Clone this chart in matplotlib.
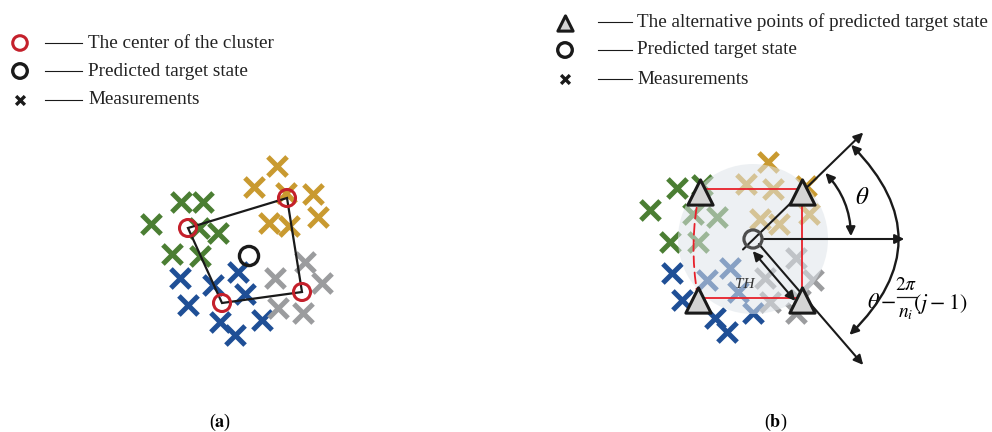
import numpy as np
import matplotlib.pyplot as plt
from matplotlib.patches import Circle, FancyArrowPatch, Polygon

plt.rcParams['font.family'] = ['Liberation Serif', 'DejaVu Serif']
plt.rcParams['mathtext.fontset'] = 'stix'

# colours of the four measurement clusters
GREEN = '#4b7e33'
GOLD = '#c99a30'
BLUE = '#1f4f96'
GRAY = '#9b9c9e'
RED = '#c4202b'

# ---- panel (a): measurements, cluster centres, predicted state ----
a_green_x = [181, 203, 151, 199, 218, 172, 200]
a_green_y = [202, 202, 224, 228, 233, 254, 256]
a_gold_x = [277, 254, 286, 313, 318, 269, 289]
a_gold_y = [166, 187, 193, 194, 217, 223, 226]
a_blue_x = [180, 188, 238, 213, 245, 220, 235, 262]
a_blue_y = [278, 305, 272, 285, 294, 322, 335, 320]
a_gray_x = [305, 275, 322, 278, 303]
a_gray_y = [262, 278, 283, 308, 313]
a_center_x = [188, 287, 302, 222]
a_center_y = [228, 198, 292, 303]
a_pred = (249, 256)

# ---- panel (b) ----
b_green_x = [677, 650, 670, 702, 693, 717, 698]
b_green_y = [188, 210, 242, 185, 214, 217, 242]
b_gold_x = [768, 746, 773, 806, 809, 760, 779]
b_gold_y = [162, 184, 189, 186, 214, 219, 224]
b_blue_x = [672, 682, 715, 727, 730, 707, 738, 753]
b_blue_y = [273, 300, 318, 332, 268, 280, 292, 313]
b_gray_x = [796, 813, 765, 770, 796, 800]
b_gray_y = [258, 280, 278, 302, 313, 300]
b_alt_x = [700, 802, 698, 802]
b_alt_y = [192, 192, 300, 300]
b_pred = (753, 239)
gate_radius = 75
theta_deg = 44
branch_deg = -46

legend_a = ['The center of the cluster', 'Predicted target state', 'Measurements']
legend_b = ['The alternative points of predicted target state', 'Predicted target state', 'Measurements']

fig = plt.figure(figsize=(9.92, 4.32), dpi=100)
ax = fig.add_axes([0, 0, 1, 1])
ax.set_xlim(0, 992)
ax.set_ylim(432, 0)
ax.axis('off')

cross = dict(marker='x', s=190, linewidths=3.6, zorder=2)

# panel (a)
for xs, ys, c in [(a_green_x, a_green_y, GREEN), (a_gold_x, a_gold_y, GOLD),
                  (a_blue_x, a_blue_y, BLUE), (a_gray_x, a_gray_y, GRAY)]:
    ax.scatter(xs, ys, color=c, **cross)
ax.add_patch(Polygon(np.column_stack([a_center_x, a_center_y]), closed=True,
                     fill=False, ec='#1a1a1a', lw=1.6, zorder=3))
ax.scatter(a_center_x, a_center_y, s=150, facecolors='none', edgecolors=RED,
           linewidths=2.2, zorder=4)
ax.scatter([a_pred[0]], [a_pred[1]], s=190, facecolors='none', edgecolors='#1a1a1a',
           linewidths=2.4, zorder=4)

# panel (b)
for xs, ys, c in [(b_green_x, b_green_y, GREEN), (b_gold_x, b_gold_y, GOLD),
                  (b_blue_x, b_blue_y, BLUE), (b_gray_x, b_gray_y, GRAY)]:
    ax.scatter(xs, ys, color=c, **cross)
ax.add_patch(Circle(b_pred, gate_radius, fc='#dfe5ea', ec='none', alpha=0.55, zorder=3))

# red gate box with dashed left side
ax.plot([b_alt_x[0], b_alt_x[1], b_alt_x[3], b_alt_x[2]],
        [b_alt_y[0] - 3, b_alt_y[1] - 3, b_alt_y[3] - 2, b_alt_y[2] - 2],
        color='#e8202a', lw=1.3, zorder=4)
ax.add_patch(FancyArrowPatch((b_alt_x[0], b_alt_y[0] - 3), (b_alt_x[2], b_alt_y[2] - 2),
                             arrowstyle='-', connectionstyle='arc3,rad=0.1',
                             color='#e8202a', lw=1.3, linestyle=(0, (6, 3)), zorder=4))

arr = dict(arrowstyle='-|>', color='#1a1a1a', lw=1.5, mutation_scale=14)
cx, cy = b_pred
t = np.radians(theta_deg)
ax.annotate('', xy=(cx + 156 * np.cos(t), cy - 156 * np.sin(t)),
            xytext=(cx - 12, cy + 12.4), arrowprops=arr, zorder=5)
ax.annotate('', xy=(cx + 154, cy), xytext=(cx + 8, cy), arrowprops=arr, zorder=5)
ax.annotate('', xy=(865, 367), xytext=(cx + 4, cy + 3), arrowprops=arr, zorder=5)
ax.annotate('', xy=(797, 303), xytext=(cx - 2, cy + 10),
            arrowprops=dict(arr, arrowstyle='<|-|>'), zorder=5)
ax.text(745, 285, 'TH', fontsize=11, style='italic', ha='center', va='center',
        color='#333333', zorder=6)

# angle arcs
def arc_arrow(r, a0, a1):
    p0 = (cx + r * np.cos(np.radians(a0)), cy - r * np.sin(np.radians(a0)))
    p1 = (cx + r * np.cos(np.radians(a1)), cy - r * np.sin(np.radians(a1)))
    rad = np.tan(np.radians(abs(a1 - a0)) / 2) / 2
    ax.add_patch(FancyArrowPatch(p0, p1, connectionstyle=f'arc3,rad={rad}',
                                 arrowstyle='<|-|>', mutation_scale=13,
                                 color='#1a1a1a', lw=1.7, zorder=5))

arc_arrow(98, 0, theta_deg)
arc_arrow(136, branch_deg, theta_deg + 1)
ax.text(862, 198, r'$\theta$', fontsize=18, ha='center', va='center')

# angle of the j-th branch, set as a display fraction
ax.text(882, 304, r'$\theta-$', fontsize=16, ha='center', va='center')
ax.text(906, 285, r'$2\pi$', fontsize=14, ha='center', va='center')
ax.plot([897, 916], [297, 297], color='#1a1a1a', lw=0.9)
ax.text(906, 313, r'$n_i$', fontsize=14, ha='center', va='center')
ax.text(940, 304, r'$(j-1)$', fontsize=16, ha='center', va='center')

ax.scatter(b_alt_x, b_alt_y, marker='^', s=330, facecolors='#d4d4d4',
           edgecolors='#1a1a1a', linewidths=2.2, zorder=6)
ax.scatter([cx], [cy], s=170, facecolors='none', edgecolors='#4d4d4d',
           linewidths=2.3, zorder=6)

# legends
ly = [43, 71, 100]
ax.scatter([20], [ly[0]], s=110, facecolors='none', edgecolors=RED, linewidths=2.2)
ax.scatter([20], [ly[1]], s=110, facecolors='none', edgecolors='#1a1a1a', linewidths=2.4)
ax.scatter([20], [ly[2]], marker='x', s=40, color='#1a1a1a', linewidths=2.4)
for y, label in zip(ly, legend_a):
    ax.plot([45, 82], [y, y], color='#1a1a1a', lw=0.8)
    ax.text(88, y, label, fontsize=13.8, va='center', color='#222222')

ly = [22, 50, 79]
ax.scatter([565], [ly[0] + 1], marker='^', s=120, facecolors='#d4d4d4',
           edgecolors='#1a1a1a', linewidths=2.2)
ax.scatter([565], [ly[1]], s=110, facecolors='none', edgecolors='#1a1a1a', linewidths=2.4)
ax.scatter([565], [ly[2]], marker='x', s=40, color='#1a1a1a', linewidths=2.4)
for y, label in zip(ly, legend_b):
    ax.plot([598, 632], [y, y], color='#1a1a1a', lw=0.8)
    ax.text(637, y, label, fontsize=13.8, va='center', color='#222222')

ax.text(220, 422, r'($\mathbf{a}$)', fontsize=13, ha='center', va='center')
ax.text(776, 422, r'($\mathbf{b}$)', fontsize=13, ha='center', va='center')

fig.savefig('out.png', dpi=100)
